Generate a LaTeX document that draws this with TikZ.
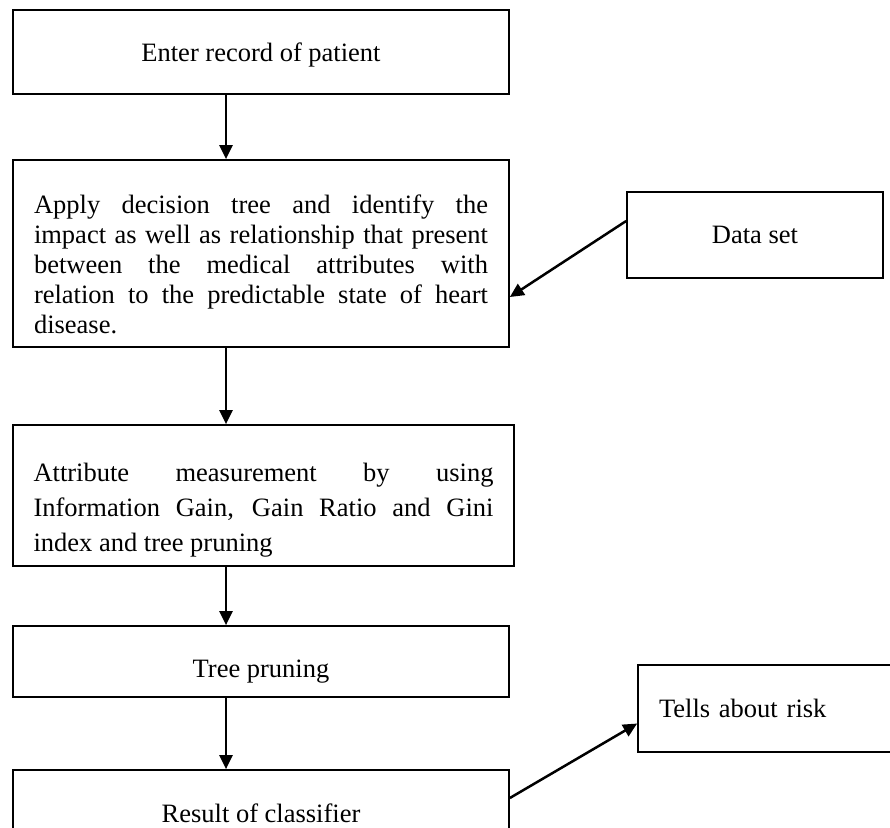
\documentclass[tikz,border=0pt]{standalone}
\usepackage{fontspec}
\setmainfont{Liberation Serif}
\usetikzlibrary{arrows.meta}

\tikzset{
	flowbox/.style={draw, line width=0.85pt, inner sep=0pt, font=\fontsize{13.25}{15}\selectfont},
	onebox/.style={flowbox, text depth=0pt},
	flowline/.style={-{Triangle[length=7pt,width=6.5pt]}, line width=1.25pt}
}

\begin{document}
\begin{tikzpicture}[x=0.5pt,y=-0.5pt]
		\useasboundingbox (0,0) rectangle (890,827);
		\clip (0,0) rectangle (890,827);
		\coordinate (spine) at (226,0);
		
		% Main column
		\node[onebox, minimum width=248pt, minimum height=42pt] (enter) at (261,52) {Enter record of patient};
		\node[flowbox, text height=20.6pt, minimum width=248pt, minimum height=93.5pt, text width=227pt, align=justify] (apply) at (261,253.5) {Apply decision tree and identify the\linebreak impact as well as relationship that present\linebreak between the medical attributes with\linebreak relation to the predictable state of heart\linebreak disease.};
		\node[flowbox, font=\fontsize{13.25}{17.5}\selectfont, text height=23.6pt, minimum width=250.5pt, minimum height=70.5pt, text width=230pt, align=justify] (attr) at (263.5,495.5) {Attribute measurement by using\linebreak Information Gain, Gain Ratio and Gini\linebreak index and tree pruning};
		\node[onebox, text height=15.8pt, minimum width=248pt, minimum height=35.5pt] (prune) at (261,661.5) {Tree pruning};
		\node[onebox, minimum width=248pt, minimum height=43pt] (result) at (261,813) {Result of classifier};
		
		% Side boxes
		\node[onebox, minimum width=128pt, minimum height=43pt] (data) at (755,235) {Data set};
		\node[onebox, minimum width=136pt, minimum height=43.5pt, text width=115pt, align=left] (risk) at (774,708.5) {Tells about risk};
		
		\draw[flowline] (enter.south -| spine) -- (apply.north -| spine);
		\draw[flowline] (apply.south -| spine) -- (attr.north -| spine);
		\draw[flowline] (attr.south -| spine) -- (prune.north -| spine);
		\draw[flowline] (prune.south -| spine) -- (result.north -| spine);
		\draw[flowline] ([yshift=7pt]data.west) -- ([yshift=-21.75pt]apply.east);
		\draw[flowline] ([yshift=7.5pt]result.east) -- ([yshift=-7.5pt]risk.west);
	\end{tikzpicture}
\end{document}
